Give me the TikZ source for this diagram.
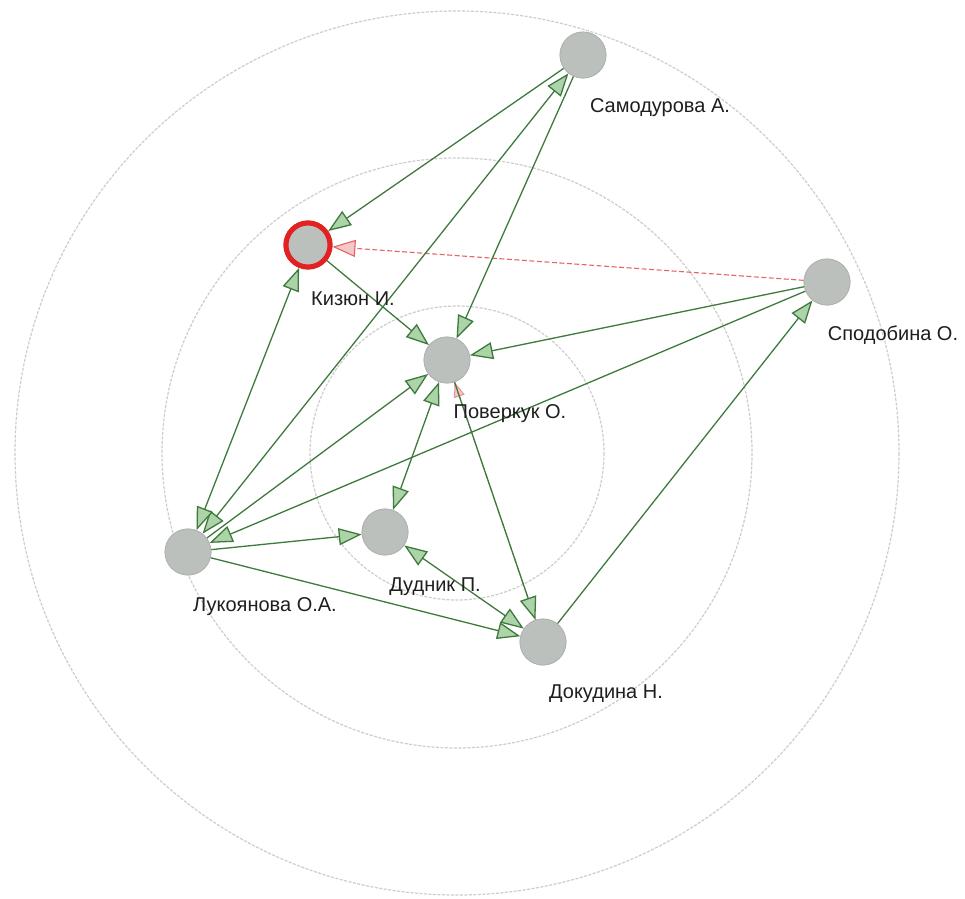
\documentclass[tikz,border=0pt]{standalone}
\usepackage{fontspec}
\setmainfont{Liberation Sans}
\usetikzlibrary{arrows.meta}
\definecolor{nodegray}{RGB}{188,192,188}
\definecolor{nodeedge}{RGB}{176,180,176}
\definecolor{edgegreen}{RGB}{62,122,62}
\definecolor{tipgreen}{RGB}{172,212,168}
\definecolor{ringred}{RGB}{226,34,34}
\definecolor{dashred}{RGB}{226,100,100}
\definecolor{tippink}{RGB}{244,200,200}
\definecolor{orbit}{RGB}{205,205,205}
\definecolor{labeltext}{RGB}{30,30,30}
\tikzset{
  gtip/.tip={Triangle[length=23pt,width=17pt,fill=tipgreen]},
  rtip/.tip={Triangle[length=23pt,width=17pt,fill=tippink]},
  stip/.tip={Triangle[length=15pt,width=11pt,fill=tippink]},
}
\begin{document}
\begin{tikzpicture}[x=1pt,y=-1pt,
  person/.style={circle, fill=nodegray, draw=nodeedge, line width=0.8pt, minimum size=46pt, inner sep=0pt},
  focusperson/.style={circle, fill=nodegray, draw=ringred, line width=5pt, minimum size=44pt, inner sep=0pt},
  personlabel/.style={font=\fontsize{20}{24}\selectfont, text=labeltext, inner sep=0pt},
  orbitline/.style={draw=orbit, line width=1.2pt, dash pattern=on 3pt off 1.5pt},
  onewaylink/.style={draw=edgegreen, line width=1.3pt, -{gtip}},
  twowaylink/.style={draw=edgegreen, line width=1.3pt, {gtip}-{gtip}},
  redlink/.style={draw=dashred, line width=1.1pt, dash pattern=on 5pt off 2.5pt, -{rtip}},
  faintredlink/.style={draw=dashred!70, line width=1pt, dash pattern=on 5pt off 2.5pt, -{stip}},
]
\useasboundingbox (0,0) rectangle (965,898);
\fill[white] (0,0) rectangle (965,898);

% orbits
\draw[orbitline] (457,453) circle[radius=147];
\draw[orbitline] (457,453) circle[radius=295];
\draw[orbitline] (457,453) circle[radius=442];

% people
\node[person] (sam) at (583,55) {};
\node[focusperson]  (kiz) at (308,245) {};
\node[person] (pov) at (447,360) {};
\node[person] (spo) at (827,282) {};
\node[person] (luk) at (188,552) {};
\node[person] (dud) at (385,532) {};
\node[person] (dok) at (543,642) {};

% connectors
\draw[faintredlink] (dok) -- (pov);
\draw[redlink] (spo) -- (kiz);
\draw[onewaylink] (sam) -- (kiz);
\draw[twowaylink] (luk) -- (sam);
\draw[onewaylink] (sam) -- (pov);
\draw[onewaylink] (kiz) -- (pov);
\draw[twowaylink] (kiz) -- (luk);
\draw[onewaylink] (spo) -- (pov);
\draw[onewaylink] (spo) -- (luk);
\draw[onewaylink] (dok) -- (spo);
\draw[onewaylink] (luk) -- (pov);
\draw[onewaylink] (luk) -- (dud);
\draw[onewaylink] (luk) -- (dok);
\draw[twowaylink] (pov) -- (dud);
\draw[onewaylink] (pov) -- (dok);
\draw[twowaylink] (dud) -- (dok);

% redraw nodes on top
\node[person] at (sam) {};
\node[focusperson]  at (kiz) {};
\node[person] at (pov) {};
\node[person] at (spo) {};
\node[person] at (luk) {};
\node[person] at (dud) {};
\node[person] at (dok) {};

% labels
\node[personlabel] (lsam) at (660,108) {Самодурова А.};
\node[personlabel] (lkiz) at (353,299) {Кизюн И.};
\node[personlabel] (lpov) at (510,414) {Поверкук О.};
\node[personlabel] (lspo) at (893,335) {Сподобина О.};
\node[personlabel] (lluk) at (265,607) {Лукоянова О.А.};
\node[personlabel] (ldud) at (435,587) {Дудник П.};
\node[personlabel] (ldok) at (606,694) {Докудина Н.};
\end{tikzpicture}
\end{document}
